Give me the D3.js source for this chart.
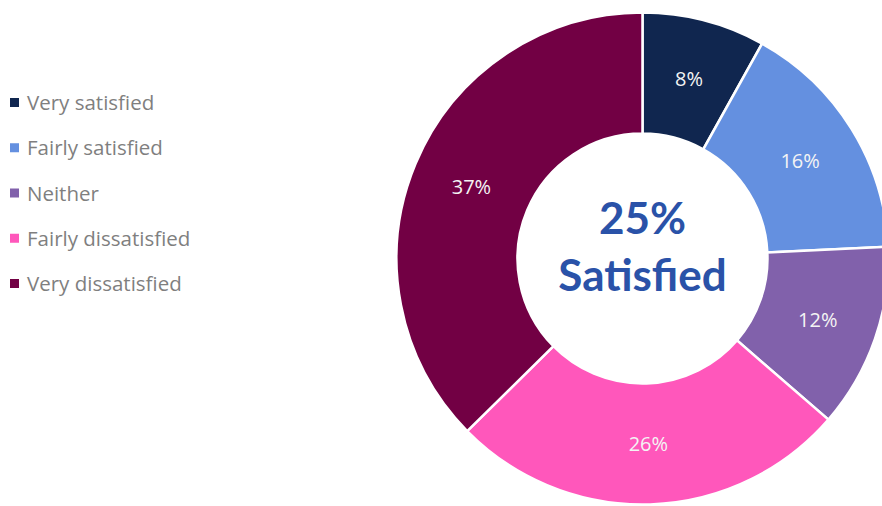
<!DOCTYPE html>
<html><head><meta charset="utf-8">
<script src="https://cdn.jsdelivr.net/npm/d3@7"></script>
<style>html,body{margin:0;padding:0;background:#fff;overflow:hidden}</style>
</head><body>
<svg id="chart" width="882" height="506"></svg>
<script>
const categories = ["Very satisfied","Fairly satisfied","Neither","Fairly dissatisfied","Very dissatisfied"];
const values = [8,16,12,26,37];
const labels = ["8%","16%","12%","26%","37%"];
const colors = ["#10264f","#6490e0","#8161ab","#ff57bb","#720044"];
const centerLines = ["25%","Satisfied"];

const svg = d3.select("#chart");
const cx = 642.5, cy = 258.5, R = 246, r = 125;
const pie = d3.pie().sort(null).value(d => d)(values);
const arc = d3.arc().innerRadius(r).outerRadius(R);
const g = svg.append("g").attr("transform", `translate(${cx},${cy})`);
g.selectAll("path").data(pie).join("path")
  .attr("d", arc).attr("fill", (d,i) => colors[i])
  .attr("stroke", "#fff").attr("stroke-width", 2.5);
g.selectAll("text.lbl").data(pie).join("text").attr("class","lbl")
  .attr("transform", d => `translate(${arc.centroid(d)})`)
  .attr("text-anchor","middle").attr("dominant-baseline","central")
  .attr("font-family","'Open Sans', Lato, sans-serif").attr("font-size",20)
  .attr("fill","#f4f4f4").text((d,i) => labels[i]);
g.selectAll("text.ctr").data(centerLines).join("text").attr("class","ctr")
  .attr("x",0).attr("y",(d,i) => i===0 ? -42 : 15)
  .attr("text-anchor","middle").attr("dominant-baseline","central")
  .attr("font-family","Lato, 'Open Sans', sans-serif").attr("font-weight","bold")
  .attr("font-size",44).attr("fill","#2a52a8").text(d => d);

const y = d3.scalePoint().domain(categories).range([102, 283]);
const lg = svg.append("g");
lg.selectAll("rect").data(categories).join("rect")
  .attr("x",10).attr("y",d => y(d)-4).attr("width",9).attr("height",9)
  .attr("fill",(d,i) => colors[i]);
lg.selectAll("text").data(categories).join("text")
  .attr("x",27).attr("y",d => y(d)).attr("dominant-baseline","central")
  .attr("font-family","'Open Sans', Lato, sans-serif").attr("font-size",20.5)
  .attr("fill","#7f7f7f").text(d => d);
</script>
</body></html>
